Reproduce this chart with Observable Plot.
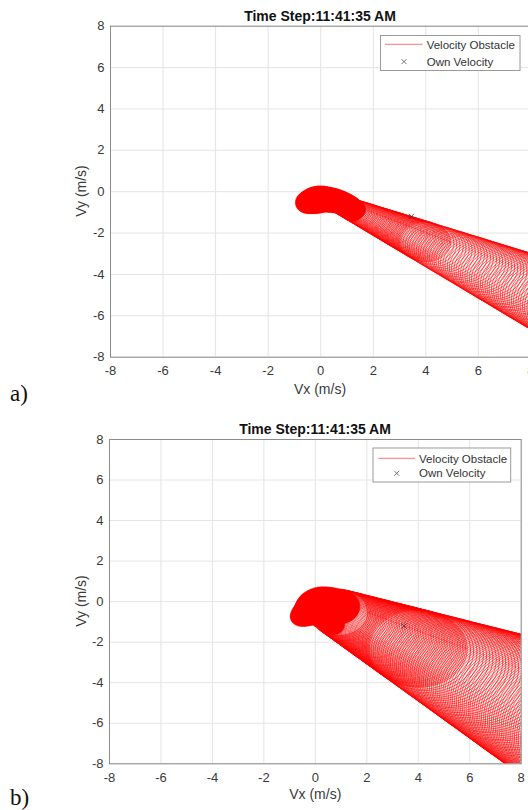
<!DOCTYPE html>
<html><head><meta charset="utf-8">
<script src="https://cdn.jsdelivr.net/npm/d3@7"></script>
<script src="https://cdn.jsdelivr.net/npm/@observablehq/plot@0.6"></script>
<style>
html,body{margin:0;padding:0;background:#fff;width:528px;height:810px;overflow:hidden;position:relative;}
.fig{position:absolute;left:0;width:560px;}
.fig svg{max-width:none !important;display:block;}
#overlay{position:absolute;left:0;top:0;pointer-events:none;}
#overlay text{font-family:'Liberation Sans',Arial,sans-serif;}
</style></head><body>
<div id="pa" class="fig" style="top:0px"></div>
<div id="pb" class="fig" style="top:400px"></div>
<svg id="overlay" width="528" height="810"></svg>
<script>
// ---------- data ----------
const ticks = [-8, -6, -4, -2, 0, 2, 4, 6, 8];
const titleText = "Time Step:11:41:35 AM";
const xLabel = "Vx (m/s)";
const yLabel = "Vy (m/s)";
const legendLabels = ["Velocity Obstacle", "Own Velocity"];
const panelLabels = ["a)", "b)"];

// own velocity (both panels)
const ownVx = [3.45];
const ownVy = [-1.2];

// panel a: solid (dense) region circles
const aFillCx = [-0.47,-0.4,-0.3,-0.2,-0.1,0.0,0.1,0.2,0.3,0.4,0.5,0.6,0.7,0.8,0.9,1.0,1.1, 0.6,0.8,1.0,1.2, 0.71,1.21];
const aFillCy = [-0.58,-0.5,-0.46,-0.42,-0.38,-0.36,-0.36,-0.37,-0.39,-0.41,-0.43,-0.46,-0.5,-0.54,-0.58,-0.63,-0.69, -0.53,-0.65,-0.76,-0.87, -0.70,-1.08];
const aFillR  = [0.48,0.56,0.6,0.64,0.65,0.64,0.62,0.61,0.6,0.59,0.58,0.56,0.55,0.53,0.51,0.49,0.47, 0.42,0.45,0.48,0.51, 0.35,0.35];
// panel a: velocity obstacle circles (centre x, centre y, radius)
const aCx = [0.85,0.9,0.95,1.0,1.05,1.1,1.15,1.2,1.25,1.3,1.35,1.4,1.45,1.5,1.55,1.6,1.65,1.7,1.75,1.8,1.85,1.9,1.95,2.0,
  2.05,2.1,2.15,2.2,2.25,2.3,2.35,2.4,2.45,2.5,2.55,2.6,2.65,2.7,2.75,2.8,2.85,2.9,2.95,3.0,
  3.05,3.1,3.15,3.2,3.25,3.3,3.35,3.4,3.45,3.5,3.55,3.6,3.65,3.7,3.75,3.8,3.85,3.9,3.95,4.0,
  4.1,4.2,4.3,4.4,4.5,4.6,4.7,4.8,4.9,5.0,5.1,5.2,5.3,5.4,5.5,5.6,5.7,5.8,5.9,6.0,
  6.1,6.2,6.3,6.4,6.5,6.6,6.7,6.8,6.9,7.0,7.1,7.2,7.3,7.4,7.5,7.6,7.7,7.8,7.9,8.0,
  8.1,8.2,8.3,8.4,8.5,8.6,8.7,8.8,8.9,9.0,9.1,9.2,9.3,9.4,9.5,9.6,9.7,9.8,9.9];
const aCy = [-0.67,-0.70,-0.73,-0.76,-0.79,-0.81,-0.84,-0.87,-0.90,-0.93,-0.95,-0.98,-1.01,-1.04,-1.06,-1.09,-1.12,-1.15,-1.18,-1.20,-1.23,-1.26,-1.29,-1.32,
  -1.35,-1.37,-1.40,-1.43,-1.46,-1.48,-1.51,-1.54,-1.57,-1.60,-1.63,-1.65,-1.68,-1.71,-1.74,-1.76,-1.79,-1.82,-1.85,-1.88,
  -1.91,-1.93,-1.96,-1.99,-2.02,-2.05,-2.07,-2.10,-2.13,-2.16,-2.18,-2.21,-2.24,-2.27,-2.30,-2.32,-2.35,-2.38,-2.41,-2.44,
  -2.49,-2.55,-2.61,-2.66,-2.72,-2.77,-2.83,-2.89,-2.94,-3.00,-3.05,-3.11,-3.17,-3.22,-3.28,-3.33,-3.39,-3.44,-3.50,-3.56,
  -3.61,-3.67,-3.73,-3.78,-3.84,-3.89,-3.95,-4.01,-4.06,-4.12,-4.17,-4.23,-4.28,-4.34,-4.40,-4.45,-4.51,-4.57,-4.62,-4.68,
  -4.73,-4.79,-4.85,-4.90,-4.96,-5.01,-5.07,-5.12,-5.18,-5.24,-5.29,-5.35,-5.41,-5.46,-5.52,-5.57,-5.63,-5.69,-5.74];
const aR = [0.46,0.46,0.47,0.48,0.49,0.49,0.50,0.51,0.52,0.53,0.53,0.54,0.55,0.56,0.57,0.57,0.58,0.59,0.60,0.61,0.61,0.62,0.63,0.64,
  0.64,0.65,0.66,0.67,0.68,0.68,0.69,0.70,0.71,0.72,0.72,0.73,0.74,0.75,0.76,0.76,0.77,0.78,0.79,0.80,
  0.80,0.81,0.82,0.83,0.83,0.84,0.85,0.86,0.87,0.87,0.88,0.89,0.90,0.91,0.91,0.92,0.93,0.94,0.95,0.95,
  0.97,0.98,1.00,1.02,1.03,1.05,1.06,1.08,1.10,1.11,1.13,1.14,1.16,1.17,1.19,1.21,1.22,1.24,1.25,1.27,
  1.28,1.30,1.32,1.33,1.35,1.36,1.38,1.40,1.41,1.43,1.44,1.46,1.47,1.49,1.51,1.52,1.54,1.55,1.57,1.59,
  1.60,1.62,1.63,1.65,1.66,1.68,1.70,1.71,1.73,1.74,1.76,1.77,1.79,1.81,1.82,1.84,1.85,1.87,1.89];

// panel b: solid (dense) region circles
const bFillCx = [-0.5,-0.4,-0.3,-0.2,-0.1,0.0,0.1,0.25,0.4,0.55,0.7,0.85, 0.24,0.64];
const bFillCy = [-0.75,-0.65,-0.57,-0.47,-0.37,-0.28,-0.21,-0.15,-0.15,-0.18,-0.22,-0.25, -0.79,-1.15];
const bFillR  = [0.48,0.56,0.62,0.66,0.72,0.78,0.84,0.88,0.88,0.88,0.86,0.88, 0.5,0.5];
// panel b: velocity obstacle circles (centre x, centre y, radius)
const bCx = [0.9,0.95,1.0,1.05,1.1,1.15,1.2,1.25,1.3,1.35,1.4,1.45,1.5,1.55,1.6,1.65,1.7,1.75,1.8,1.85,1.9,1.95,2.0,
  2.05,2.1,2.15,2.2,2.25,2.3,2.35,2.4,2.45,2.5,2.55,2.6,2.65,2.7,2.75,2.8,2.85,2.9,2.95,3.0,
  3.05,3.1,3.15,3.2,3.25,3.3,3.35,3.4,3.45,3.5,3.55,3.6,3.65,3.7,3.75,3.8,3.85,3.9,3.95,4.0,
  4.1,4.2,4.3,4.4,4.5,4.6,4.7,4.8,4.9,5.0,5.1,5.2,5.3,5.4,5.5,5.6,5.7,5.8,5.9,6.0,
  6.1,6.2,6.3,6.4,6.5,6.6,6.7,6.8,6.9,7.0,7.1,7.2,7.3,7.4,7.5,7.6,7.7,7.8,7.9,8.0,
  8.1,8.2,8.3,8.4,8.5,8.6,8.7,8.8,8.9,9.0,9.1,9.2,9.3,9.4,9.5,9.6,9.7,9.8,9.9,10.0,
  10.1,10.2,10.3,10.4,10.5,10.6,10.7,10.8,10.9,11.0,11.1,11.2,11.3,11.4,11.5,11.6,11.7,11.8];
const bCy = [-0.53,-0.56,-0.59,-0.62,-0.65,-0.68,-0.71,-0.73,-0.76,-0.79,-0.82,-0.85,-0.88,-0.91,-0.94,-0.97,-1.00,-1.02,-1.05,-1.08,-1.11,-1.14,-1.17,
  -1.20,-1.23,-1.26,-1.29,-1.31,-1.34,-1.37,-1.40,-1.43,-1.46,-1.49,-1.52,-1.55,-1.58,-1.60,-1.63,-1.66,-1.69,-1.72,-1.75,
  -1.78,-1.81,-1.84,-1.86,-1.89,-1.92,-1.95,-1.98,-2.01,-2.04,-2.07,-2.10,-2.13,-2.15,-2.18,-2.21,-2.24,-2.27,-2.30,-2.33,
  -2.39,-2.44,-2.50,-2.56,-2.62,-2.68,-2.73,-2.79,-2.85,-2.91,-2.97,-3.02,-3.08,-3.14,-3.20,-3.26,-3.31,-3.37,-3.43,-3.49,
  -3.55,-3.60,-3.66,-3.72,-3.78,-3.84,-3.89,-3.95,-4.01,-4.07,-4.13,-4.18,-4.24,-4.30,-4.36,-4.42,-4.47,-4.53,-4.59,-4.65,
  -4.71,-4.76,-4.82,-4.88,-4.94,-5.00,-5.05,-5.11,-5.17,-5.23,-5.29,-5.34,-5.40,-5.46,-5.52,-5.58,-5.63,-5.69,-5.75,-5.81,
  -5.87,-5.92,-5.98,-6.04,-6.10,-6.15,-6.21,-6.27,-6.33,-6.39,-6.44,-6.50,-6.56,-6.62,-6.68,-6.73,-6.79,-6.85];
const bR = [1.14,1.15,1.16,1.17,1.19,1.20,1.21,1.22,1.24,1.25,1.26,1.27,1.28,1.30,1.31,1.32,1.33,1.35,1.36,1.37,1.38,1.40,1.41,
  1.42,1.43,1.45,1.46,1.47,1.48,1.50,1.51,1.52,1.53,1.54,1.56,1.57,1.58,1.59,1.61,1.62,1.63,1.64,1.66,
  1.67,1.68,1.69,1.71,1.72,1.73,1.74,1.75,1.77,1.78,1.79,1.80,1.82,1.83,1.84,1.85,1.87,1.88,1.89,1.90,
  1.93,1.95,1.98,2.00,2.03,2.05,2.08,2.10,2.13,2.15,2.18,2.20,2.22,2.25,2.27,2.30,2.32,2.35,2.37,2.40,
  2.42,2.45,2.47,2.50,2.52,2.55,2.57,2.60,2.62,2.65,2.67,2.69,2.72,2.74,2.77,2.79,2.82,2.84,2.87,2.89,
  2.92,2.94,2.97,2.99,3.02,3.04,3.07,3.09,3.12,3.14,3.16,3.19,3.21,3.24,3.26,3.29,3.31,3.34,3.36,3.39,
  3.41,3.44,3.46,3.49,3.51,3.54,3.56,3.58,3.61,3.63,3.66,3.68,3.71,3.73,3.76,3.78,3.81,3.83];

// ---------- drawing ----------
function outline(cx, cy, r) {
  const pts = [];
  const n = 120;
  cx.forEach((c, i) => {
    for (let k = 0; k <= n; k++) {
      const t = 2 * Math.PI * k / n;
      pts.push({x: c + r[i] * Math.cos(t), y: cy[i] + r[i] * Math.sin(t), id: i});
    }
  });
  return pts;
}

function panel(cx, cy, r, fcx, fcy, fr, m) {
  const rings = outline(cx, cy, r);
  const solid = outline(fcx, fcy, fr);
  const own = ownVx.map((v, i) => ({x: v, y: ownVy[i]}));
  return Plot.plot({
    width: m.width, height: m.height,
    marginLeft: m.left, marginRight: m.right, marginTop: m.top, marginBottom: m.bottom,
    style: {fontFamily: "'Liberation Sans', Arial, sans-serif", fontSize: "13px", color: "#3a3a3a", background: "transparent", maxWidth: "none"},
    x: {domain: [-8, 8], ticks: ticks, tickFormat: d => String(d), tickSize: 0, tickPadding: 9, label: null},
    y: {domain: [-8, 8], ticks: ticks, tickFormat: d => String(d), tickSize: 0, tickPadding: 6, label: null},
    marks: [
      Plot.ruleX(ticks, {stroke: "#e4e4e4", strokeWidth: 1}),
      Plot.ruleY(ticks, {stroke: "#e4e4e4", strokeWidth: 1}),
      Plot.line(rings, {x: "x", y: "y", z: "id", stroke: "#ff0000", strokeWidth: 0.65, clip: true}),
      Plot.line(solid, {x: "x", y: "y", z: "id", fill: "#ff0000", stroke: "#ff0000", strokeWidth: 0.5, clip: true}),
      Plot.dot(own, {x: "x", y: "y", symbol: "times", r: 2.5, stroke: "#333", strokeWidth: 0.8}),
      Plot.frame({stroke: "#8c8c8c"})
    ]
  });
}

document.getElementById("pa").appendChild(
  panel(aCx, aCy, aR, aFillCx, aFillCy, aFillR, {width: 560, height: 400, left: 110, right: 29.6, top: 25.7, bottom: 43.3}));
document.getElementById("pb").appendChild(
  panel(bCx, bCy, bR, bFillCx, bFillCy, bFillR, {width: 560, height: 410, left: 109, right: 39.3, top: 39, bottom: 46.7}));

// ---------- text overlay (titles, labels, legends) ----------
const ov = d3.select("#overlay");
const layouts = [
  {titleX: 320, titleY: 20.7, xlX: 320, xlY: 393.5, ylX: 85.5, ylY: 191, tag: panelLabels[0], tagY: 400.5,
   box: [380.5, 35.5, 139.5, 35], line: [385, 422.7, 44.3], txtX: 426.7, t1Y: 48.5, mark: [404, 61.6], t2Y: 65.5},
  {titleX: 315, titleY: 434.3, xlX: 315.3, xlY: 798.5, ylX: 85.5, ylY: 601, tag: panelLabels[1], tagY: 804.5,
   box: [373, 448, 137.7, 34], line: [378.3, 415, 458.3], txtX: 419, t1Y: 462.5, mark: [396.7, 473.3], t2Y: 477}
];
layouts.forEach(L => {
  ov.append("text").attr("x", L.titleX).attr("y", L.titleY).attr("text-anchor", "middle")
    .attr("font-size", 14).attr("font-weight", "bold").attr("fill", "#111").text(titleText);
  ov.append("text").attr("x", L.xlX).attr("y", L.xlY).attr("text-anchor", "middle")
    .attr("font-size", 14).attr("fill", "#3a3a3a").text(xLabel);
  ov.append("text").attr("transform", `translate(${L.ylX},${L.ylY}) rotate(-90)`).attr("text-anchor", "middle")
    .attr("font-size", 14).attr("fill", "#3a3a3a").text(yLabel);
  ov.append("text").attr("x", 10).attr("y", L.tagY).attr("font-size", 23)
    .style("font-family", "'Liberation Serif','Times New Roman',serif").attr("fill", "#111").text(L.tag);
  const [bx, by, bw, bh] = L.box;
  ov.append("rect").attr("x", bx).attr("y", by).attr("width", bw).attr("height", bh)
    .attr("fill", "#fff").attr("stroke", "#9a9a9a").attr("stroke-width", 1);
  ov.append("line").attr("x1", L.line[0]).attr("x2", L.line[1]).attr("y1", L.line[2]).attr("y2", L.line[2])
    .attr("stroke", "#ff5050").attr("stroke-width", 0.8);
  ov.append("text").attr("x", L.txtX).attr("y", L.t1Y).attr("font-size", 11.5).attr("fill", "#333").text(legendLabels[0]);
  const [mx, my] = L.mark;
  ov.append("path").attr("d", `M${mx-2.5},${my-2.5}L${mx+2.5},${my+2.5}M${mx-2.5},${my+2.5}L${mx+2.5},${my-2.5}`)
    .attr("stroke", "#555").attr("stroke-width", 0.8);
  ov.append("text").attr("x", L.txtX).attr("y", L.t2Y).attr("font-size", 11.5).attr("fill", "#333").text(legendLabels[1]);
});
</script>
</body></html>
